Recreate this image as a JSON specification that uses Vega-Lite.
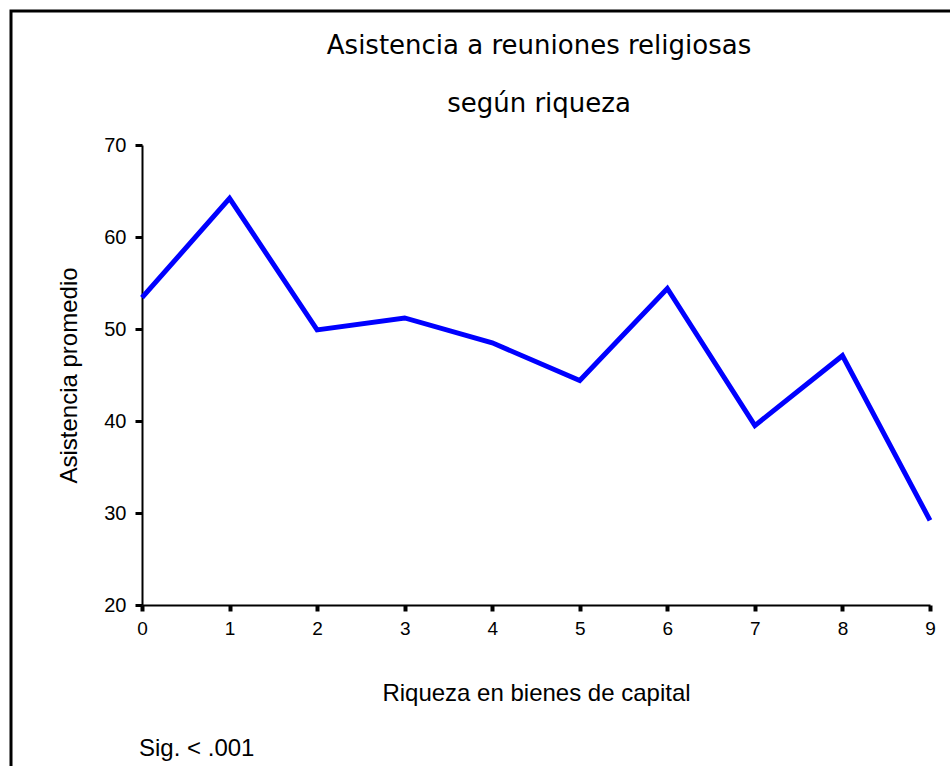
{
  "$schema": "https://vega.github.io/schema/vega-lite/v6.json",
  "width": 788,
  "height": 460,
  "autosize": {"type": "none"},
  "padding": {"left": 142, "top": 145, "right": 20, "bottom": 161},
  "background": "white",
  "datasets": {
    "asistencia": [
      {"riqueza": 0, "asistencia": 53.4},
      {"riqueza": 1, "asistencia": 64.2},
      {"riqueza": 2, "asistencia": 49.9},
      {"riqueza": 3, "asistencia": 51.2},
      {"riqueza": 4, "asistencia": 48.5},
      {"riqueza": 5, "asistencia": 44.4},
      {"riqueza": 6, "asistencia": 54.4},
      {"riqueza": 7, "asistencia": 39.5},
      {"riqueza": 8, "asistencia": 47.1},
      {"riqueza": 9, "asistencia": 29.2}
    ],
    "textos": [
      {"texto": "Asistencia a reuniones religiosas", "tipo": "titulo1"},
      {"texto": "según riqueza", "tipo": "titulo2"},
      {"texto": "Sig. < .001", "tipo": "nota"}
    ]
  },
  "data": {"name": "asistencia"},
  "layer": [
    {
      "data": {"values": [{"marco": 1}]},
      "mark": {"type": "rect", "fill": null, "stroke": "black", "strokeWidth": 3},
      "encoding": {
        "x": {"value": -131},
        "y": {"value": -134},
        "x2": {"value": 830},
        "y2": {"value": 640}
      }
    },
    {
      "mark": {"type": "line", "color": "#0000FF", "strokeWidth": 5, "strokeJoin": "miter"},
      "encoding": {
        "x": {
          "field": "riqueza",
          "type": "quantitative",
          "scale": {"domain": [0, 9], "nice": false, "zero": false},
          "axis": {
            "title": "Riqueza en bienes de capital",
            "values": [0, 1, 2, 3, 4, 5, 6, 7, 8, 9],
            "format": "d",
            "grid": false,
            "labelFlush": false,
            "tickSize": 6,
            "tickWidth": 4,
            "labelPadding": 8,
            "labelFontSize": 19,
            "titlePadding": 43
          }
        },
        "y": {
          "field": "asistencia",
          "type": "quantitative",
          "scale": {"domain": [20, 70], "nice": false, "zero": false},
          "axis": {
            "title": "Asistencia promedio",
            "values": [20, 30, 40, 50, 60, 70],
            "grid": false,
            "labelFlush": false,
            "tickSize": 7,
            "tickWidth": 3,
            "labelPadding": 9,
            "labelFontSize": 20,
            "titlePadding": 22
          }
        }
      }
    },
    {
      "data": {"name": "textos"},
      "transform": [{"filter": "datum.tipo === 'titulo1'"}],
      "mark": {"type": "text", "align": "center", "baseline": "alphabetic", "font": "DejaVu Sans", "fontSize": 26, "color": "black"},
      "encoding": {
        "text": {"field": "texto"},
        "x": {"value": 397},
        "y": {"value": -91}
      }
    },
    {
      "data": {"name": "textos"},
      "transform": [{"filter": "datum.tipo === 'titulo2'"}],
      "mark": {"type": "text", "align": "center", "baseline": "alphabetic", "font": "DejaVu Sans", "fontSize": 26, "color": "black"},
      "encoding": {
        "text": {"field": "texto"},
        "x": {"value": 397},
        "y": {"value": -33}
      }
    },
    {
      "data": {"name": "textos"},
      "transform": [{"filter": "datum.tipo === 'nota'"}],
      "mark": {"type": "text", "align": "left", "baseline": "alphabetic", "font": "Liberation Sans", "fontSize": 24, "color": "black"},
      "encoding": {
        "text": {"field": "texto"},
        "x": {"value": -3},
        "y": {"value": 611}
      }
    }
  ],
  "config": {
    "view": {"stroke": null},
    "axis": {
      "domainColor": "black",
      "domainWidth": 2,
      "tickColor": "black",
      "labelFont": "Liberation Sans",
      "labelColor": "black",
      "titleFont": "Liberation Sans",
      "titleFontSize": 24,
      "titleFontWeight": "normal",
      "titleColor": "black"
    }
  }
}
